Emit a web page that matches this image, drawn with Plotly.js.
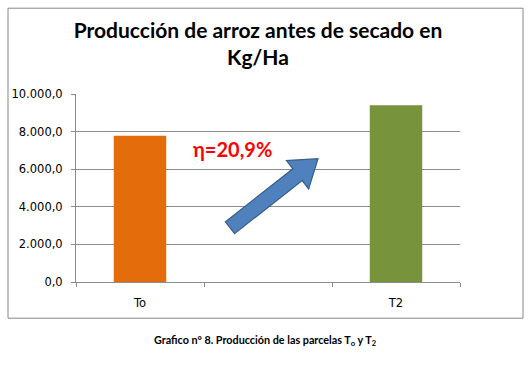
<!DOCTYPE html>
<html>
<head>
<meta charset="utf-8">
<script src="https://cdn.plot.ly/plotly-3.0.1.min.js"></script>
<style>html,body{margin:0;padding:0;background:#fff;}#chart{width:531px;height:365px;}</style>
</head>
<body>
<div id="chart"></div>
<script>
// Data
const categories = ['To', 'T1', 'T2'];
const tickLabels = ['To', ' ', 'T2'];
const production = [7780, null, 9406];
const barColors = ['#E46C0A', '#77933C', '#77933C'];
const yTicks = [0, 2000, 4000, 6000, 8000, 10000];
const chartTitle = 'Producción de arroz antes de secado en<br>Kg/Ha';
const increaseLabel = 'η=20,9%';
const caption = 'Grafico nº 8. Producción de las parcelas T<sub>o</sub> y T<sub>2</sub>';

// Layout geometry (pixels)
const W = 531, H = 365;
const L = 76, R = 460, T = 94.3, B = 282.3;
const px = x => (x - L) / (R - L);
const py = y => (B - y) / (B - T);
const pt = (x, y) => px(x).toFixed(4) + ',' + py(y).toFixed(4);

// Block arrow polygon (pixels)
const tail = [230, 228], tip = [318, 159];
const dx = tip[0] - tail[0], dy = tip[1] - tail[1];
const len = Math.hypot(dx, dy);
const u = [dx / len, dy / len], n = [-u[1], u[0]];
const headLen = 26, sh = 7.5, hh = 18;
const base = [tip[0] - headLen * u[0], tip[1] - headLen * u[1]];
const P = (c, k) => [c[0] + k * n[0], c[1] + k * n[1]];
const poly = [P(tail, sh), P(base, sh), P(base, hh), tip, P(base, -hh), P(base, -sh), P(tail, -sh)];
const arrowPath = 'M' + poly.map(p => pt(p[0], p[1])).join(' L') + ' Z';

const trace = {
  type: 'bar',
  x: categories,
  y: production,
  marker: { color: barColors, line: { width: 0 } },
  width: 0.41,
  hoverinfo: 'x+y'
};

const gridColor = '#8c8c8c';
const tickFont = { family: 'DejaVu Sans, Verdana, sans-serif', size: 11.5, color: '#000' };
const layout = {
  width: W, height: H,
  margin: { l: L, r: W - R, t: T, b: H - B, pad: 0 },
  paper_bgcolor: '#ffffff',
  plot_bgcolor: '#ffffff',
  separators: ',.',
  showlegend: false,
  font: { family: 'DejaVu Sans, Verdana, sans-serif', size: 11, color: '#000' },
  title: {
    text: chartTitle,
    font: { family: 'Lato, Carlito, Calibri, sans-serif', size: 21, color: '#000', weight: 'bold' },
    x: px(258), xanchor: 'center', xref: 'paper',
    y: 1 - 38 / H, yanchor: 'top', yref: 'container'
  },
  xaxis: {
    type: 'category',
    categoryorder: 'array',
    categoryarray: categories,
    tickvals: categories,
    ticktext: tickLabels,
    range: [-0.5, 2.5],
    tickson: 'boundaries',
    ticks: 'outside', ticklen: 4, tickcolor: gridColor, tickwidth: 1,
    showline: true, linecolor: gridColor, linewidth: 1,
    showgrid: false, zeroline: false,
    ticklabelstandoff: 10,
    tickfont: tickFont,
    fixedrange: true
  },
  yaxis: {
    range: [0, 10000],
    tickvals: yTicks,
    tickformat: ',.1f',
    ticks: 'outside', ticklen: 4, tickcolor: gridColor, tickwidth: 1,
    showline: true, linecolor: gridColor, linewidth: 1,
    showgrid: true, gridcolor: gridColor, gridwidth: 1,
    zeroline: false,
    ticklabelstandoff: 6,
    tickfont: tickFont,
    fixedrange: true
  },
  shapes: [
    {
      type: 'rect', xref: 'paper', yref: 'paper',
      x0: px(8), x1: px(523), y0: py(318.5), y1: py(8.5),
      line: { color: '#868686', width: 1 }, fillcolor: 'rgba(0,0,0,0)', layer: 'below'
    },
    {
      type: 'path', xref: 'paper', yref: 'paper',
      path: arrowPath,
      fillcolor: '#4F81BD',
      line: { color: '#385D8A', width: 1.2 },
      layer: 'above'
    }
  ],
  annotations: [
    {
      text: increaseLabel, xref: 'paper', yref: 'paper',
      x: px(232.5), y: py(149), xanchor: 'center', yanchor: 'middle',
      showarrow: false,
      font: { family: 'Lato, Carlito, Calibri, sans-serif', size: 20, color: '#FF0000', weight: 'bold' }
    },
    {
      text: caption, xref: 'paper', yref: 'paper',
      x: px(265.5), y: py(341), xanchor: 'center', yanchor: 'middle',
      showarrow: false,
      font: { family: 'Lato, Carlito, Calibri, sans-serif', size: 10.8, color: '#000', weight: 'bold' }
    }
  ]
};

Plotly.newPlot('chart', [trace], layout, { displayModeBar: false, staticPlot: true });
</script>
</body>
</html>
